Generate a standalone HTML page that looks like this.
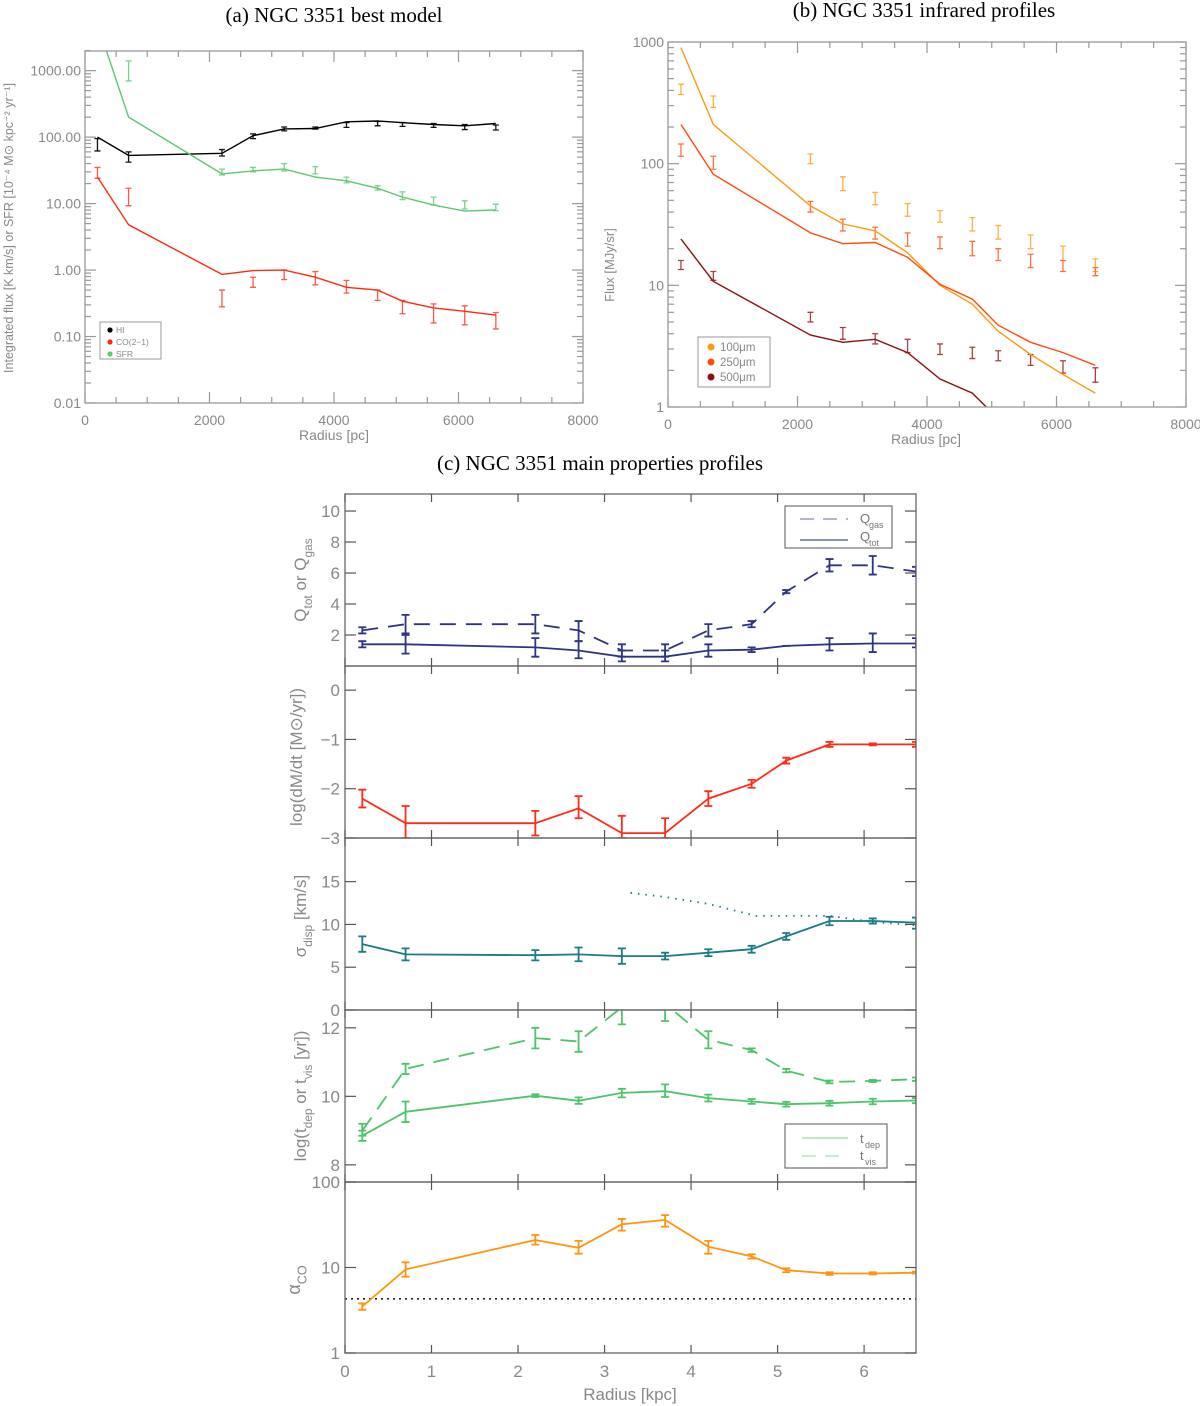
<!DOCTYPE html>
<html><head><meta charset="utf-8"><style>
body{margin:0;background:#fff}
svg{display:block}
text{font-family:"Liberation Sans",sans-serif}
.ttl{font-family:"Liberation Serif",serif;font-size:21px;fill:#000}
</style></head><body>
<svg id="fig" width="1200" height="1406" viewBox="0 0 1200 1406" xmlns="http://www.w3.org/2000/svg">
<text class="ttl" x="334" y="22" text-anchor="middle">(a) NGC 3351 best model</text>
<text class="ttl" x="924" y="17" text-anchor="middle">(b) NGC 3351 infrared profiles</text>
<text class="ttl" x="600" y="470" text-anchor="middle">(c) NGC 3351 main properties profiles</text>
</svg>
<script>
// ---------- data ----------
const radiusPc = [200,700,2200,2700,3200,3700,4200,4700,5100,5600,6100,6600];
const hiModel = [100,53,57,105,133,135,170,175,165,155,148,160];
const hiData = [80,52,58,103,133,137,152,160,155,150,143,140];
const hiLo = [62,42,52,95,124,132,140,148,145,140,130,128];
const hiHi = [95,60,65,112,142,142,165,172,166,160,155,152];
const sfrModel = [5000,200,28,31,33,25,22,17,12.5,9.5,7.7,8];
const sfrData = [null,1000,30,32,35,31,22,17,13,11,9.5,8.8];
const sfrLo = [null,700,27,30,31,28,20.5,16,11.5,9.5,8.3,7.8];
const sfrHi = [null,1400,33,35,40,36,25,18.5,15,12.5,11,9.8];
const coModel = [25,4.8,0.86,0.98,1.0,0.78,0.55,0.5,0.34,0.27,0.24,0.21];
const coData = [28,12,0.37,0.65,0.85,0.75,0.55,0.42,0.28,0.22,0.2,0.17];
const coLo = [24,9.3,0.28,0.55,0.72,0.6,0.45,0.35,0.22,0.16,0.15,0.13];
const coHi = [35,17,0.5,0.78,1.0,0.95,0.7,0.5,0.35,0.31,0.29,0.23];

const ir100Model = [900,210,45,32,28,18.5,10,7,4.2,2.7,1.85,1.3];
const ir100Data = [410,320,110,68,52,42,37,32,27,23,18,15];
const ir100Lo = [370,290,100,60,46,37,33,28,24,20,16,13];
const ir100Hi = [450,360,120,78,58,47,41,36,31,26,21,16.5];
const ir250Model = [210,82,27,22,22.5,17,10.2,7.7,4.7,3.4,2.8,2.2];
const ir250Data = [130,103,45,31,27,24,22,20,18,16,14.5,13];
const ir250Lo = [115,90,40,28,24,21,20,17.5,16,14,13,12];
const ir250Hi = [145,115,49,35,30,27,25,23,20,18,16,14];
const ir500Model = [24,10.8,3.9,3.4,3.6,2.8,1.7,1.3,0.8,0.6,0.5,0.4];
const ir500Data = [14.5,11.8,5.5,4,3.6,3.2,3,2.8,2.6,2.4,2.1,1.8];
const ir500Lo = [13.5,11,5,3.6,3.3,2.8,2.7,2.5,2.4,2.2,1.9,1.6];
const ir500Hi = [16,13,6,4.5,4,3.6,3.3,3.1,2.9,2.7,2.4,2.1];

const radiusKpc = [0.2,0.7,2.2,2.7,3.2,3.7,4.2,4.7,5.1,5.6,6.1,6.6];
const qGas = [2.3,2.7,2.7,2.3,1.0,1.0,2.3,2.7,4.8,6.5,6.5,6.1];
const qGasLo = [2.1,2.1,2.1,1.6,0.6,0.6,1.9,2.5,4.7,6.1,5.9,5.8];
const qGasHi = [2.5,3.3,3.3,2.9,1.4,1.4,2.7,2.9,4.9,6.9,7.1,6.4];
const qTot = [1.4,1.4,1.2,1.0,0.6,0.6,1.0,1.05,1.3,1.4,1.45,1.45];
const qTotLo = [1.2,0.8,0.6,0.5,0.3,0.3,0.6,0.9,1.3,1.0,0.9,1.2];
const qTotHi = [1.6,2.0,1.8,1.6,1.0,1.0,1.4,1.2,1.3,1.8,2.1,1.8];
const dmdt = [-2.2,-2.7,-2.7,-2.4,-2.9,-2.9,-2.2,-1.9,-1.43,-1.1,-1.1,-1.1];
const dmdtLo = [-2.38,-3.0,-2.95,-2.6,-3.0,-3.0,-2.35,-1.98,-1.49,-1.15,-1.12,-1.15];
const dmdtHi = [-2.02,-2.35,-2.45,-2.15,-2.55,-2.6,-2.05,-1.82,-1.37,-1.05,-1.08,-1.05];
const sigma = [7.7,6.5,6.4,6.5,6.3,6.3,6.7,7.1,8.6,10.4,10.4,10.2];
const sigmaLo = [6.8,5.8,5.8,5.7,5.4,5.9,6.3,6.7,8.2,9.9,10.1,9.5];
const sigmaHi = [8.6,7.2,7.0,7.3,7.2,6.7,7.1,7.5,9.0,10.9,10.7,10.8];
const sigmaRefR = [3.3,3.7,4.2,4.75,5.6,6.1,6.6];
const sigmaRef = [13.7,13.2,12.4,11.0,11.0,10.3,9.9];
const tDep = [8.85,9.55,10.02,9.87,10.1,10.15,9.95,9.85,9.77,9.8,9.85,9.88];
const tDepLo = [8.7,9.25,9.98,9.78,9.97,9.98,9.85,9.78,9.7,9.73,9.77,9.8];
const tDepHi = [9.0,9.85,10.06,9.97,10.22,10.35,10.05,9.92,9.84,9.87,9.93,9.95];
const tVis = [9.0,10.8,11.7,11.6,12.6,12.7,11.65,11.35,10.75,10.42,10.45,10.5];
const tVisLo = [8.85,10.65,11.4,11.3,12.1,12.2,11.4,11.3,10.7,10.38,10.42,10.45];
const tVisHi = [9.2,10.95,12.0,11.9,12.9,13.0,11.9,11.4,10.8,10.46,10.48,10.55];
const alphaCO = [3.5,9.5,21,17,32,36,17.5,13.5,9.3,8.5,8.5,8.7];
const alphaLo = [3.2,7.8,18.5,14.5,27,30,14.5,12.7,8.8,8.2,8.3,8.5];
const alphaHi = [3.8,11.5,24,20.5,37,41,20.5,14.3,9.8,8.8,8.8,8.9];
const alphaGal = 4.3;

// ---------- helpers ----------
const NS = 'http://www.w3.org/2000/svg';
const fig = document.getElementById('fig');
let clipN = 0;
function mk(tag, attrs, parent) {
  const e = document.createElementNS(NS, tag);
  for (const k in attrs) e.setAttribute(k, attrs[k]);
  (parent || fig).appendChild(e);
  return e;
}
function axes(x0, x1, y0, y1, xmin, xmax, ymin, ymax, logY) {
  const sx = v => x0 + (v - xmin) / (xmax - xmin) * (x1 - x0);
  const sy = logY
    ? v => y1 - (Math.log10(v) - Math.log10(ymin)) / (Math.log10(ymax) - Math.log10(ymin)) * (y1 - y0)
    : v => y1 - (v - ymin) / (ymax - ymin) * (y1 - y0);
  const id = 'c' + (clipN++);
  const cp = mk('clipPath', {id: id});
  mk('rect', {x: x0, y: y0, width: x1 - x0, height: y1 - y0}, cp);
  const g = mk('g', {'clip-path': 'url(#' + id + ')'});
  return {sx, sy, g, x0, x1, y0, y1};
}
function linePath(ax, xs, ys, color, w, dash, name) {
  let d = '';
  xs.forEach((x, i) => { if (ys[i] != null) d += (d ? 'L' : 'M') + ax.sx(x).toFixed(1) + ',' + ax.sy(ys[i]).toFixed(1); });
  const p = mk('path', {d: d, fill: 'none', stroke: color, 'stroke-width': w}, ax.g);
  if (dash) p.setAttribute('stroke-dasharray', dash);
  
  
  return p;
}
function errBars(ax, xs, lo, hi, color, w, cap, name) {
  const g = mk('g', {}, ax.g);
  
  
  xs.forEach((x, i) => {
    if (lo[i] == null) return;
    const X = ax.sx(x), a = ax.sy(lo[i]), b = ax.sy(hi[i]);
    mk('path', {d: `M${X},${a}L${X},${b}M${X - cap},${a}L${X + cap},${a}M${X - cap},${b}L${X + cap},${b}`, stroke: color, 'stroke-width': w, fill: 'none'}, g);
  });
}
function box(ax, name, c) {
  const r = mk('rect', {x: ax.x0, y: ax.y0, width: ax.x1 - ax.x0, height: ax.y1 - ax.y0, fill: 'none', stroke: c || '#999', 'stroke-width': 1.3});
  
  
}
function tick(x1, y1, x2, y2, c) { mk('line', {x1, y1, x2, y2, stroke: c || '#999', 'stroke-width': 1.2}); }
function label(x, y, s, anchor, size, name, extra) {
  const t = mk('text', Object.assign({x: x, y: y, 'text-anchor': anchor, 'font-size': size, fill: '#888'}, extra || {}));
  t.textContent = s;
  
  
  return t;
}
// rotated label with subscript parts: parts = [[text, isSub], ...]
function richLabel(cx, cy, parts, size, name) {
  const t = mk('text', {x: 0, y: 0, 'text-anchor': 'middle', 'font-size': size, fill: '#888', transform: `translate(${cx},${cy}) rotate(-90)`});
  let sub = false;
  parts.forEach(p => {
    const s = mk('tspan', {}, t);
    if (p[1] && !sub) { s.setAttribute('dy', size * 0.35); s.setAttribute('font-size', size * 0.7); sub = true; }
    else if (!p[1] && sub) { s.setAttribute('dy', -size * 0.35); sub = false; }
    else if (p[1]) s.setAttribute('font-size', size * 0.7);
    s.textContent = p[0];
  });
  
  
}
function logYTicks(ax, dmin, dmax, fmt, size, lx) {
  for (let d = dmin; d <= dmax; d++) {
    for (let m = 1; m < 10; m++) {
      const v = m * Math.pow(10, d), y = ax.sy(v);
      if (y < ax.y0 - 0.5 || y > ax.y1 + 0.5) continue;
      const L = m === 1 ? 11 : 6;
      tick(ax.x0, y, ax.x0 + L, y); tick(ax.x1, y, ax.x1 - L, y);
      if (m === 1) label(lx, y + size * 0.36, fmt(v), 'end', size, 'y-tick-label');
    }
  }
}
function xTicks(ax, vals, minor, labels, size, top) {
  vals.forEach((v, i) => {
    const x = ax.sx(v);
    tick(x, ax.y1, x, ax.y1 - 11); if (top) tick(x, ax.y0, x, ax.y0 + 11);
    if (labels) label(x, ax.y1 + size + 8, labels[i], 'middle', size, 'x-tick-label');
  });
  if (minor) minor.forEach(v => { const x = ax.sx(v); tick(x, ax.y1, x, ax.y1 - 6); if (top) tick(x, ax.y0, x, ax.y0 + 6); });
}

// ---------- panel a ----------
const A = axes(85, 583, 51, 403, 0, 8000, 0.01, 1975, true);
errBars(A, radiusPc, hiLo, hiHi, '#111', 1.3, 3, 'hi-errorbars');
errBars(A, radiusPc, sfrLo, sfrHi, '#7ed08f', 1.3, 3, 'sfr-errorbars');
errBars(A, radiusPc, coLo, coHi, '#ff5a48', 1.3, 3, 'co-errorbars');
linePath(A, radiusPc, hiModel, '#000', 1.4, null, 'hi-model-line');
linePath(A, radiusPc, sfrModel, '#5cc870', 1.4, null, 'sfr-model-line');
linePath(A, radiusPc, coModel, '#ff2a14', 1.4, null, 'co-model-line');
box(A, 'plot-area-a');
logYTicks(A, -2, 3, v => v.toFixed(2), 14, 81);
xTicks(A, [0,2000,4000,6000,8000], [500,1000,1500,2500,3000,3500,4500,5000,5500,6500,7000,7500], ['0','2000','4000','6000','8000'], 14, true);
label(334, 440, 'Radius [pc]', 'middle', 14, 'x-axis-title-a');
label(0, 0, 'Integrated flux [K km/s] or SFR [10\u207B\u2074 M\u2299 kpc\u207B\u00B2 yr\u207B\u00B9]', 'middle', 12.5, 'y-axis-title-a', {transform: 'translate(13,228) rotate(-90)'});
const legA = mk('g', {});  
mk('rect', {x: 100, y: 322, width: 61, height: 37, fill: '#fff', stroke: '#999'}, legA);
[['HI', '#000'], ['CO(2\u22121)', '#ff2a14'], ['SFR', '#5cc870']].forEach((e, i) => {
  mk('circle', {cx: 110, cy: 330 + i * 12, r: 2.6, fill: e[1]}, legA);
  const t = mk('text', {x: 116, y: 333 + i * 12, 'font-size': 8.5, fill: '#888'}, legA); t.textContent = e[0];
});

// ---------- panel b ----------
const B = axes(668, 1186, 42, 407, 0, 8000, 1, 1000, true);
errBars(B, radiusPc, ir100Lo, ir100Hi, '#ffb040', 1.3, 3, 'ir100-errorbars');
errBars(B, radiusPc, ir250Lo, ir250Hi, '#ff7040', 1.3, 3, 'ir250-errorbars');
errBars(B, radiusPc, ir500Lo, ir500Hi, '#a84040', 1.3, 3, 'ir500-errorbars');
linePath(B, radiusPc, ir100Model, '#ff9a10', 1.4, null, 'ir100-model-line');
linePath(B, radiusPc, ir250Model, '#ff4a10', 1.4, null, 'ir250-model-line');
linePath(B, radiusPc, ir500Model, '#8b1010', 1.4, null, 'ir500-model-line');
box(B, 'plot-area-b');
logYTicks(B, 0, 3, v => String(v), 14, 664);
xTicks(B, [0,2000,4000,6000,8000], [500,1000,1500,2500,3000,3500,4500,5000,5500,6500,7000,7500], ['0','2000','4000','6000','8000'], 14, true);
label(926, 444, 'Radius [pc]', 'middle', 14, 'x-axis-title-b');
label(0, 0, 'Flux [MJy/sr]', 'middle', 13, 'y-axis-title-b', {transform: 'translate(614,265) rotate(-90)'});
const legB = mk('g', {});  
mk('rect', {x: 698, y: 337, width: 72, height: 50, fill: '#fff', stroke: '#999'}, legB);
[['100\u03BCm', '#ff9a10'], ['250\u03BCm', '#ff4a10'], ['500\u03BCm', '#8b1010']].forEach((e, i) => {
  mk('circle', {cx: 711, cy: 347 + i * 15, r: 3.5, fill: e[1]}, legB);
  const t = mk('text', {x: 720, y: 351 + i * 15, 'font-size': 11.5, fill: '#888'}, legB); t.textContent = e[0];
});

// ---------- panel c ----------
const X0 = 345, X1 = 916, XMAX = 6.6;
const kt = [0,1,2,3,4,5,6];
function cFrame(ax, yticks, ytl, last) {
  box(ax, 'subplot-frame', '#666');
  yticks.forEach((v, i) => {
    const y = ax.sy(v);
    tick(ax.x0, y, ax.x0 + 11, y, '#555'); tick(ax.x1, y, ax.x1 - 11, y, '#555');
    label(ax.x0 - 5, y + 6, ytl[i], 'end', 17, 'y-tick-label');
  });
  kt.forEach(v => { const x = ax.sx(v); tick(x, ax.y1, x, ax.y1 - 8, '#555'); tick(x, ax.y0, x, ax.y0 + 8, '#555');
    if (last) label(x, ax.y1 + 24, String(v), 'middle', 17, 'x-tick-label'); });
}
// Q panel
const C1 = axes(X0, X1, 494, 666, 0, XMAX, 0, 11.1, false);
errBars(C1, radiusKpc, qGasLo, qGasHi, '#2e3580', 1.8, 4, 'qgas-errorbars');
errBars(C1, radiusKpc, qTotLo, qTotHi, '#2e3580', 1.8, 4, 'qtot-errorbars');
linePath(C1, radiusKpc, qGas, '#2e3580', 1.8, '16,10', 'qgas-line');
linePath(C1, radiusKpc, qTot, '#2e3580', 1.8, null, 'qtot-line');
cFrame(C1, [2,4,6,8,10], ['2','4','6','8','10'], false);
richLabel(306, 580, [['Q'], ['tot', 1], ['  or  Q'], ['gas', 1]], 17, 'y-axis-title-q');
const legQ = mk('g', {});  
mk('rect', {x: 785, y: 506, width: 107, height: 42, fill: '#fff', stroke: '#555'}, legQ);
mk('line', {x1: 800, y1: 519, x2: 848, y2: 519, stroke: '#8088c0', 'stroke-width': 1.2, 'stroke-dasharray': '14,9'}, legQ);
mk('line', {x1: 800, y1: 540, x2: 848, y2: 540, stroke: '#6068a8', 'stroke-width': 1.4}, legQ);
let t = mk('text', {x: 860, y: 523, 'font-size': 13, fill: '#777'}, legQ); t.textContent = 'Q';
t = mk('text', {x: 869, y: 528, 'font-size': 9, fill: '#777'}, legQ); t.textContent = 'gas';
t = mk('text', {x: 860, y: 541, 'font-size': 13, fill: '#777'}, legQ); t.textContent = 'Q';
t = mk('text', {x: 869, y: 546, 'font-size': 9, fill: '#777'}, legQ); t.textContent = 'tot';

// dM/dt panel
const C2 = axes(X0, X1, 666, 838, 0, XMAX, -3, 0.49, false);
errBars(C2, radiusKpc, dmdtLo, dmdtHi, '#ff2a1a', 1.8, 4, 'dmdt-errorbars');
linePath(C2, radiusKpc, dmdt, '#ff2a1a', 1.8, null, 'dmdt-line');
cFrame(C2, [0,-1,-2,-3], ['0','\u22121','\u22122','\u22123'], false);
label(0, 0, 'log(dM/dt  [M\u2299/yr])', 'middle', 17, 'y-axis-title-dmdt', {transform: 'translate(302,757) rotate(-90)'});

// sigma panel
const C3 = axes(X0, X1, 838, 1010, 0, XMAX, 0, 20.1, false);
linePath(C3, sigmaRefR, sigmaRef, '#1a7a85', 1.8, '1.5,6', 'sigma-reference-dotted');
errBars(C3, radiusKpc, sigmaLo, sigmaHi, '#1a7a85', 1.8, 4, 'sigma-errorbars');
linePath(C3, radiusKpc, sigma, '#1a7a85', 1.8, null, 'sigma-line');
cFrame(C3, [0,5,10,15], ['0','5','10','15'], false);
richLabel(306, 916, [['\u03C3'], ['disp', 1], ['  [km/s]']], 17, 'y-axis-title-sigma');

// timescale panel
const C4 = axes(X0, X1, 1010, 1182, 0, XMAX, 7.5, 12.52, false);
errBars(C4, radiusKpc, tVisLo, tVisHi, '#4cc46a', 1.8, 4, 'tvis-errorbars');
errBars(C4, radiusKpc, tDepLo, tDepHi, '#4cc46a', 1.8, 4, 'tdep-errorbars');
linePath(C4, radiusKpc, tVis, '#4cc46a', 1.8, '16,10', 'tvis-line');
linePath(C4, radiusKpc, tDep, '#4cc46a', 1.8, null, 'tdep-line');
cFrame(C4, [8,10,12], ['8','10','12'], false);
richLabel(306, 1096, [['log(t'], ['dep', 1], ['  or  t'], ['vis', 1], ['  [yr])']], 17, 'y-axis-title-t');
const legT = mk('g', {});  
mk('rect', {x: 785, y: 1124, width: 102, height: 44, fill: '#fff', stroke: '#555'}, legT);
mk('line', {x1: 802, y1: 1138, x2: 848, y2: 1138, stroke: '#a0e0b0', 'stroke-width': 1.4}, legT);
mk('line', {x1: 802, y1: 1156, x2: 848, y2: 1156, stroke: '#a0e0b0', 'stroke-width': 1.2, 'stroke-dasharray': '14,9'}, legT);
t = mk('text', {x: 860, y: 1143, 'font-size': 13, fill: '#777'}, legT); t.textContent = 't';
t = mk('text', {x: 865, y: 1148, 'font-size': 9, fill: '#777'}, legT); t.textContent = 'dep';
t = mk('text', {x: 860, y: 1160, 'font-size': 13, fill: '#777'}, legT); t.textContent = 't';
t = mk('text', {x: 865, y: 1165, 'font-size': 9, fill: '#777'}, legT); t.textContent = 'vis';

// alpha panel
const C5 = axes(X0, X1, 1182, 1353, 0, XMAX, 1, 100, true);
linePath(C5, [0, XMAX], [alphaGal, alphaGal], '#222', 1.6, '2,4', 'alpha-galactic-dotted');
errBars(C5, radiusKpc, alphaLo, alphaHi, '#ff9410', 1.8, 4, 'alpha-errorbars');
linePath(C5, radiusKpc, alphaCO, '#ff9410', 1.8, null, 'alpha-line');
cFrame(C5, [1,10,100], ['1','10','100'], true);
richLabel(300, 1280, [['\u03B1'], ['CO', 1]], 18, 'y-axis-title-alpha');
label(630, 1400, 'Radius [kpc]', 'middle', 17, 'x-axis-title-c');
</script>
</body></html>
